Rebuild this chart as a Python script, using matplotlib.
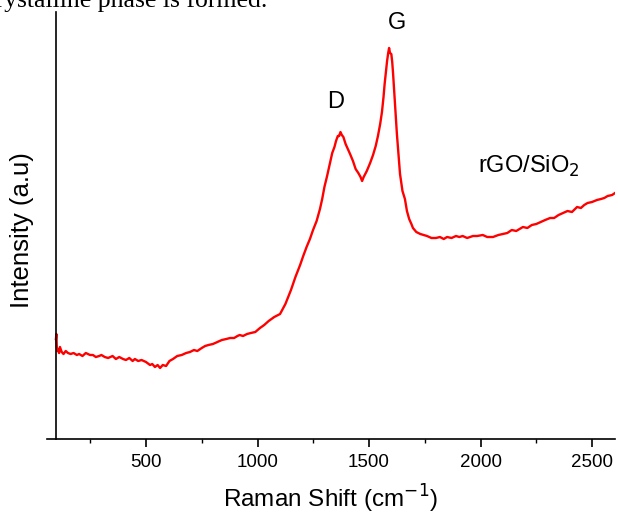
import matplotlib
matplotlib.use('Agg')
import matplotlib.pyplot as plt
from matplotlib.ticker import MultipleLocator

# Raman spectrum of rGO/SiO2 (arbitrary units)
shift = [96, 98, 100, 103, 106, 110, 114, 122, 130, 140, 150, 162, 175, 190,
         200, 215, 230, 249, 262, 275, 290, 300, 315, 330, 350, 365, 380,
         397, 410, 425, 440, 450, 465, 480, 500, 518, 528, 540, 552, 563,
         575, 590, 605, 621, 640, 660, 680, 697, 715, 730, 750, 765, 780,
         800, 820, 840, 860, 877, 895, 910, 920, 935, 953, 970, 990, 1011,
         1030, 1050, 1075, 1101, 1125, 1150, 1170, 1191, 1205, 1220, 1235,
         1249, 1265, 1280, 1290, 1300, 1312, 1325, 1335, 1345, 1352, 1360,
         1366, 1372, 1378, 1385, 1395, 1405, 1415, 1428, 1440, 1452, 1462,
         1469, 1476, 1490, 1505, 1518, 1530, 1540, 1550, 1558, 1565, 1570,
         1576, 1581, 1586, 1590, 1594, 1600, 1604, 1608, 1615, 1625, 1632,
         1639, 1650, 1661, 1670, 1680, 1690, 1697, 1712, 1730, 1745, 1760,
         1780, 1800, 1818, 1835, 1850, 1870, 1890, 1905, 1920, 1940, 1966,
         1985, 2010, 2030, 2056, 2080, 2100, 2120, 2140, 2160, 2190, 2210,
         2230, 2250, 2270, 2290, 2312, 2330, 2350, 2370, 2390, 2410, 2433,
         2450, 2465, 2480, 2500, 2522, 2540, 2555, 2570, 2590, 2603]
intensity = [100, 105, 92, 88, 90, 86, 92, 87, 85, 88, 86, 85, 86, 84,
             85, 83, 86, 84, 84, 82, 83, 84, 82, 81, 83, 80, 82,
             80, 79, 81, 78, 80, 78, 79, 77, 74, 75, 72, 74, 71,
             74, 73, 78, 80, 83, 84, 86, 87, 89, 88, 91, 93, 94,
             95, 97, 99, 100, 101, 101, 103, 104, 103, 105, 106, 107, 111,
             114, 118, 122, 125, 135, 149, 162, 174, 183, 192, 200,
             209, 218, 230, 240, 252, 263, 276, 286, 292, 298, 303,
             303, 307, 304, 302, 295, 290, 285, 278, 270, 266, 262,
             258, 262, 268, 276, 284, 293, 303, 315, 327, 342, 355,
             368, 378, 386, 391, 386, 385, 377, 365, 340, 305, 285,
             265, 248, 240, 228, 220, 215, 211, 207, 205, 204, 203,
             201, 201, 202, 200, 202, 201, 203, 202, 203, 201, 203,
             203, 204, 202, 202, 204, 205, 206, 209, 208, 212, 211,
             214, 215, 217, 219, 221, 221, 224, 226, 228, 227, 232,
             231, 234, 236, 237, 239, 240, 241, 243, 244, 246]

fig = plt.figure(figsize=(6.18, 5.15), dpi=100)
plt.rcParams['font.family'] = ['Liberation Sans', 'DejaVu Sans']

# cropped sentence from the surrounding document
fig.text(267 / 618, 1 - 7 / 515, 'crystalline phase is formed.', ha='right',
         va='baseline', fontsize=18.5, family='Liberation Serif')

ax = fig.add_axes([47 / 618, 76 / 515, 568 / 618, 427 / 515])
ax.plot(shift, intensity, color='#ff0000', linewidth=1.7)

ax.set_xlim(56, 2603)
ax.set_ylim(0, 427)

ax.spines['top'].set_visible(False)
ax.spines['right'].set_visible(False)
ax.spines['left'].set_position(('data', 96))
for s in ['left', 'bottom']:
    ax.spines[s].set_linewidth(1.2)

ax.xaxis.set_major_locator(MultipleLocator(500))
ax.xaxis.set_minor_locator(MultipleLocator(250))
ax.tick_params(axis='x', which='major', direction='out', length=6, width=1.2,
               labelsize=13.5, pad=5)
ax.tick_params(axis='x', which='minor', direction='out', length=3, width=1.0)
ax.set_yticks([])

ax.set_xlabel('Raman Shift (cm$^{-1}$)', fontsize=17.5, labelpad=8)
fig.text(22 / 618, 1 - 230 / 515, 'Intensity (a.u)', rotation=90,
         fontsize=18.5, ha='center', va='center')

ax.text(1352, 337, 'D', fontsize=17, ha='center', va='center')
ax.text(1625, 416, 'G', fontsize=17, ha='center', va='center')
ax.text(1990, 266, 'rGO/SiO$_2$', fontsize=17, ha='left', va='baseline')

fig.savefig('out.png', dpi=100)
